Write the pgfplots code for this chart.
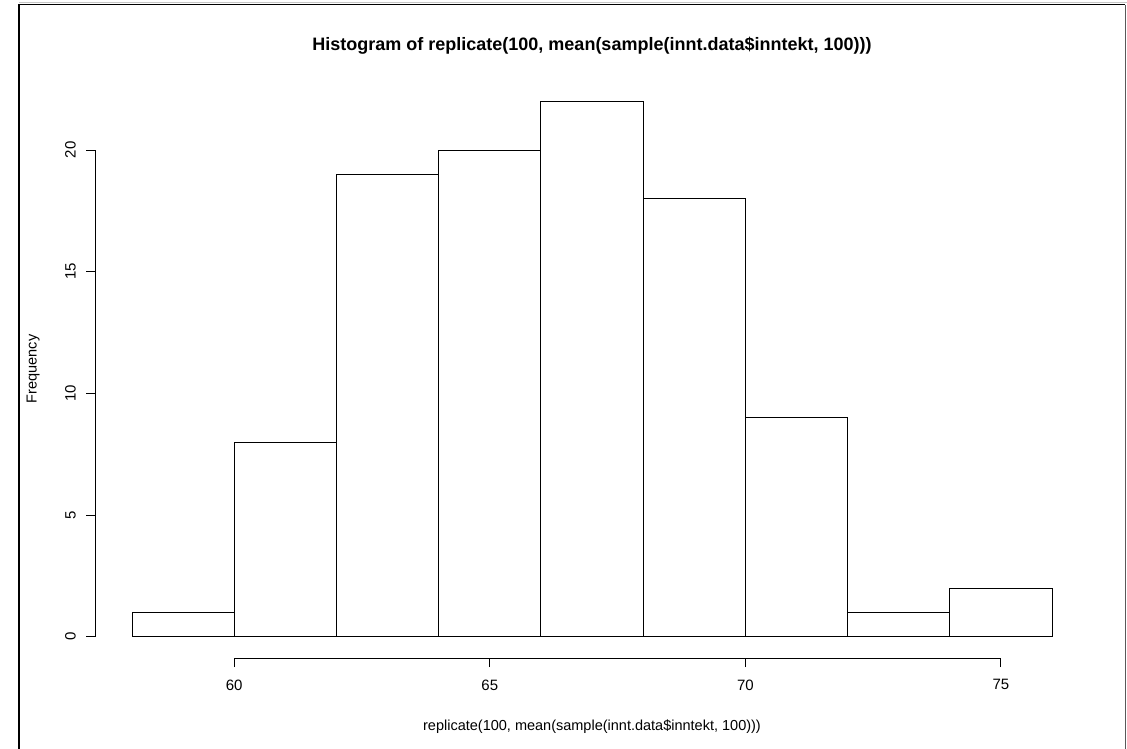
\documentclass[border=0pt]{standalone}
\usepackage{fontspec}
\setmainfont{Liberation Sans}
\usepackage{pgfplots}
\pgfplotsset{compat=1.18}
\begin{document}
\begin{tikzpicture}[x=1pt,y=1pt]
\path[use as bounding box] (0,0) rectangle (1127,749);
\begin{axis}[
  at={(95.2pt,90.9pt)}, anchor=south west,
  scale only axis, width=993.6pt, height=578.2pt,
  xmin=57.28, xmax=76.72, ymin=-0.88, ymax=22.88,
  axis x line*=bottom, axis y line*=left,
  x axis line style={line width=0.9pt, shorten <=139.0pt, shorten >=87.9pt},
  y axis line style={line width=0.9pt, shorten <=21.4pt, shorten >=70.1pt},
  xtick={60,65,70,75}, ytick={0,5,10,15,20},
  minor tick num=0,
  tick align=outside, major tick length=9pt,
  tick style={black, line width=0.9pt},
  /pgf/number format/assume math mode=true,
  ticklabel style={font=\fontsize{15}{17}\selectfont},
  xticklabel shift={9pt},
  yticklabel shift={7pt},
  yticklabel style={rotate=90, anchor=south},
  clip=false,
]
\addplot[ybar interval, fill=white, draw=black, line width=0.9pt] coordinates {(58,1)(60,8)(62,19)(64,20)(66,22)(68,18)(70,9)(72,1)(74,2)(76,2)};
\end{axis}
\node[anchor=base] at (592,698.5) {\fontsize{18}{21}\selectfont\bfseries Histogram of replicate(100, mean(sample(innt.data\$inntekt, 100)))};
\node[anchor=base] at (592,18.5) {\fontsize{14.5}{17}\selectfont replicate(100, mean(sample(innt.data\$inntekt, 100)))};
\node[anchor=base, rotate=90] at (36.7,380) {\fontsize{14.5}{17}\selectfont Frequency};
\draw[gray!45, line width=1pt] (18.5,746.5) -- (1126.5,746.5);
\draw[black, line width=1.6pt] (19.2,0) -- (19.2,744.4) -- (1125.4,744.4);
\draw[gray!70!black, line width=1pt] (1125.7,744.4) -- (1125.7,0);
\end{tikzpicture}
\end{document}
